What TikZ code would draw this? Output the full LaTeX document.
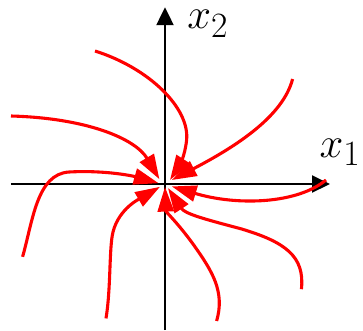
\documentclass[tikz,border=0pt]{standalone}
\usepackage{tikz}
\usetikzlibrary{arrows.meta}

\begin{document}
\begin{tikzpicture}[>=Stealth,
    axis/.style={line width=2.1pt,-{Triangle[length=0.45cm,width=0.42cm]}},
    flow/.style={red,line width=2.2pt,-{Triangle[length=0.62cm,width=0.4cm]}},
    lbl/.style={font=\Huge,scale=1.22,inner sep=0pt,anchor=base west}]
  \useasboundingbox (-4.125,-3.65) rectangle (4.95,4.6);
  % axes
  \coordinate (west) at (-3.85,0);
  \coordinate (east) at (4.125,0);
  \coordinate (south) at (0,-3.65);
  \coordinate (north) at (0,4.42);
  \draw[axis] (west) -- (east);
  \draw[axis] (south) -- (north);
  \node[lbl] (xtwo) at (0.55,3.88) {$x_2$};
  \node[lbl] (xone) at (3.86,0.66) {$x_1$};
  % trajectories running into the origin
  \draw[flow] (-1.75,3.325) .. controls (-0.4,2.9) and (0.62,1.9) .. (0.54,1.1)
      .. controls (0.5,0.7) and (0.35,0.45) .. (0.125,0.1);
  \draw[flow] (3.19,2.625) .. controls (2.95,1.7) and (1.8,0.95) .. (0.17,0.1);
  \draw[flow] (-3.85,1.7) .. controls (-2.0,1.65) and (-0.75,1.15) .. (-0.14,0.12);
  \draw[flow] (-3.56,-1.82) .. controls (-3.3,-0.9) and (-3.2,0.25) .. (-2.4,0.3)
      .. controls (-1.5,0.35) and (-0.8,0.2) .. (-0.16,0.02);
  \draw[flow] (-1.475,-3.36) .. controls (-1.35,-2.6) and (-1.4,-1.6) .. (-1.3,-1.2)
      .. controls (-1.15,-0.6) and (-0.6,-0.35) .. (-0.125,-0.07);
  \draw[flow] (1.29,-3.425) .. controls (1.5,-2.7) and (1.2,-2.2) .. (0.7,-1.5)
      .. controls (0.3,-0.95) and (0.02,-0.7) .. (0,-0.07);
  \draw[flow] (3.41,-2.63) .. controls (3.5,-1.8) and (3.0,-1.45) .. (1.9,-1.12)
      .. controls (1.0,-0.88) and (0.5,-0.75) .. (0.075,-0.1);
  \draw[flow] (4.025,0.1) .. controls (3.3,-0.5) and (1.8,-0.55) .. (0.17,-0.06);
\end{tikzpicture}
\end{document}
